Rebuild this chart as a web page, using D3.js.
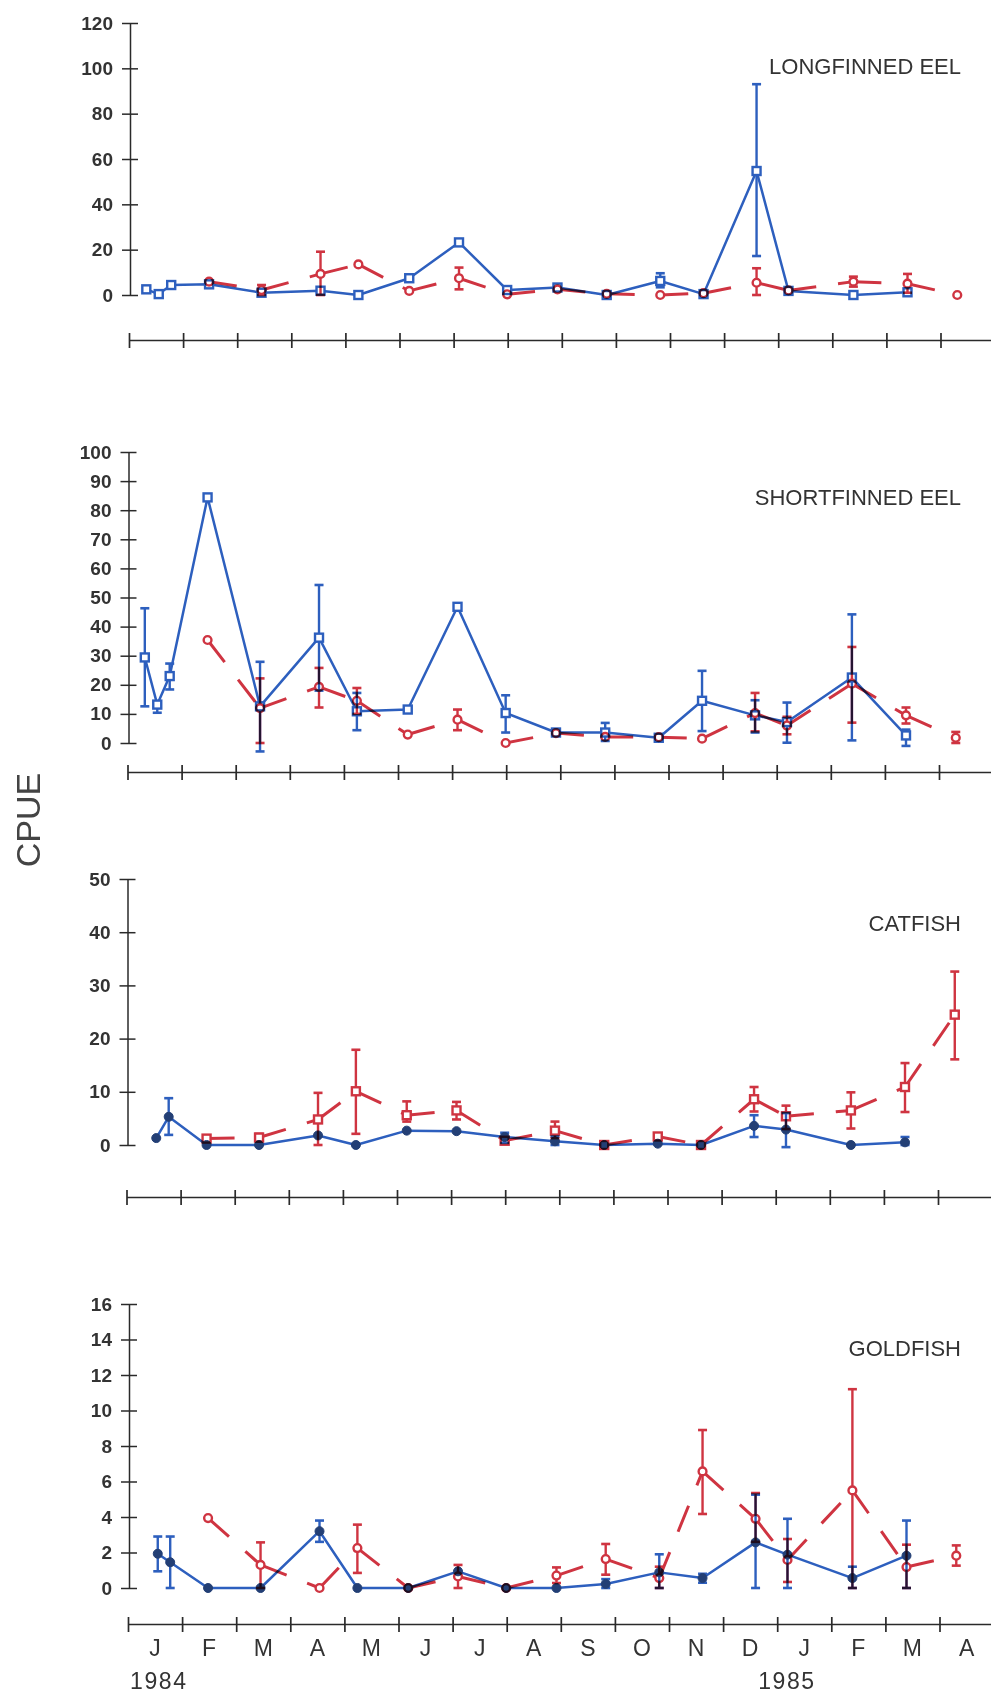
<!DOCTYPE html>
<html>
<head>
<meta charset="utf-8">
<script src="https://cdn.jsdelivr.net/npm/d3@7/dist/d3.min.js"></script>
<style>
  html, body { margin: 0; padding: 0; background: #fff; }
  svg { display: block; }
  .blend { mix-blend-mode: multiply; }
</style>
</head>
<body>
<script>
// ---------------- DATA ----------------
const monthLabels = ["J","F","M","A","M","J","J","A","S","O","N","D","J","F","M","A"];
const yearLabels = ["1984", "1985"];
const yearMonths = [0, 12];

// sampling times (months after start of Jan 1984)
const blueTimes = [0.32, 0.55, 0.78, 1.48, 2.45, 3.54, 4.24, 5.18, 6.10, 6.99, 7.92, 8.83, 9.82, 10.62, 11.60, 12.19, 13.39, 14.39];
const redTimes  = [1.48, 2.45, 3.54, 4.24, 5.18, 6.10, 6.99, 7.92, 8.83, 9.82, 10.62, 11.60, 12.19, 13.39, 14.39, 15.31];

// Longfinned eel
const lfBlue   = [2.5, 0.4, 4.4, 4.7, 1.0, 1.9, 0, 7.4, 23.2, 2.2, 3.3, 0, 6.2, 0.4, 54.7, 1.8, 0, 1.2];
const lfBlueLo = [null,null,null,null,null,null,null,null,null,null,null,null, 3.4,null, 17.2,null,null,null];
const lfBlueHi = [null,null,null,null,null,null,null,null,null,null,null,null, 9.6,null, 93,null,null,null];
const lfRed    = [5.9, 2.2, 9.3, 13.5, 1.8, 7.4, 0.3, 2.5, 0.5, 0, 0.8, 5.4, 2.0, 5.9, 5.0, 0];
const lfRedLo  = [null, 0, 0, null, null, 2.5, null, null, null, null, null, 0, null, 3.7, 1.0, null];
const lfRedHi  = [null, 4.4, 19.1, null, null, 12.1, null, null, null, null, null, 11.8, null, 8.1, 9.3, null];

// Shortfinned eel
const sfBlue   = [29.4, 13.2, 23.0, 84.4, 12.6, 36.2, 10.9, 11.5, 46.8, 10.3, 3.6, 3.6, 1.8, 14.5, 9.5, 7.2, 22.5, 2.6];
const sfBlueLo = [12.6, 10.4, 18.4, null, -2.9, 18.0, 4.4, null, null, 3.6, null, 0.7, null, 4.1, 3.6, 0.1, 0.9, -1.0];
const sfBlueHi = [46.3, 14.1, 27.3, null, 27.9, 54.3, 17.2, null, null, 16.4, null, 6.9, null, 24.8, 14.7, 13.9, 44.2, 4.6];
const sfRed    = [35.4, 12.0, 19.3, 14.5, 2.9, 8.0, 0, 3.4, 2.1, 2.0, 1.5, 10.3, 6.0, 20.4, 9.5, 1.8];
const sfRedLo  = [null, 0, 12.2, 10.0, null, 4.4, null, null, null, null, null, 4.0, 3.0, 7.0, 6.7, 0];
const sfRedHi  = [null, 22.2, 25.8, 18.9, null, 11.5, null, null, null, null, null, 17.2, 9.0, 33.0, 12.2, 3.8];

// Catfish
const cfBlue   = [null, 1.3, 5.3, 0, 0, 1.8, 0, 2.7, 2.6, 1.5, 0.7, 0, 0.25, 0, 3.6, 2.9, 0, 0.5];
const cfBlueLo = [null, null, 1.9, null, null, null, null, null, null, 0.4, 0, null, null, null, 1.5, -0.4, null, 0];
const cfBlueHi = [null, null, 8.8, null, null, null, null, null, null, 2.3, 1.6, null, null, null, 5.6, 6.0, null, 1.5];
const cfRed    = [1.2, 1.4, 4.8, 10.1, 5.6, 6.5, 0.8, 2.7, 0, 1.6, 0, 8.6, 5.4, 6.5, 10.9, 24.5];
const cfRedLo  = [null, 0.7, 0, 2.1, 4.4, 4.8, null, 1.3, null, null, null, 6.3, 3.0, 3.1, 6.2, 16.1];
const cfRedHi  = [null, 2.1, 9.8, 17.9, 8.2, 8.1, null, 4.4, null, null, null, 10.9, 7.4, 9.9, 15.4, 32.6];

// Goldfish
const gfBlue   = [null, 1.93, 1.45, 0, 0, 3.2, 0, 0, 0.94, 0, 0, 0.23, 0.88, 0.56, 2.57, 1.88, 0.56, 1.82];
const gfBlueLo = [null, 0.94, 0, null, null, 2.6, null, null, null, null, null, 0, 0, 0.3, 0, 0, 0, 0];
const gfBlueHi = [null, 2.9, 2.9, null, null, 3.8, null, null, null, null, null, 0.5, 1.9, 0.8, 5.26, 3.9, 1.2, 3.8];
const gfRed    = [3.94, 1.3, 0, 2.25, 0, 0.65, 0, 0.7, 1.63, 0.56, 6.57, 3.9, 1.58, 5.5, 1.18, 1.82];
const gfRedLo  = [null, 0, null, 0.85, null, 0, null, 0.28, 0.75, 0, 4.17, 2.6, 0.34, 0, 0, 1.26];
const gfRedHi  = [null, 2.57, null, 3.57, null, 1.3, null, 1.16, 2.48, 1.2, 8.9, 5.35, 2.76, 11.2, 2.44, 2.4];

const titles = ["LONGFINNED EEL", "SHORTFINNED EEL", "CATFISH", "GOLDFISH"];
const yMaxes = [120, 100, 50, 16];
const ySteps = [20, 10, 10, 2];

// ---------------- LAYOUT ----------------
const W = 991, H = 1695;
const MONTH_PX = 54.1;
const BLUE = "#2d5fbe", RED = "#cf3441", NAVY = "#233f75", INK = "#2a2a2a";

const panels = [
  { title: titles[0], yMax: yMaxes[0], step: ySteps[0], x0: 129, yTop: 23, yZero: 295, axisY: 340, titleY: 74,
    blue: lfBlue, blueLo: lfBlueLo, blueHi: lfBlueHi, red: lfRed, redLo: lfRedLo, redHi: lfRedHi,
    blueMark: "square", redMark: "circle" },
  { title: titles[1], yMax: yMaxes[1], step: ySteps[1], x0: 127.5, yTop: 452, yZero: 743, axisY: 772, titleY: 505,
    blue: sfBlue, blueLo: sfBlueLo, blueHi: sfBlueHi, red: sfRed, redLo: sfRedLo, redHi: sfRedHi,
    blueMark: "square", redMark: "circle" },
  { title: titles[2], yMax: yMaxes[2], step: ySteps[2], x0: 126.5, yTop: 879, yZero: 1145, axisY: 1197, titleY: 931,
    blue: cfBlue, blueLo: cfBlueLo, blueHi: cfBlueHi, red: cfRed, redLo: cfRedLo, redHi: cfRedHi,
    blueMark: "dot", redMark: "square" },
  { title: titles[3], yMax: yMaxes[3], step: ySteps[3], x0: 128, yTop: 1304, yZero: 1588, axisY: 1624, titleY: 1356,
    blue: gfBlue, blueLo: gfBlueLo, blueHi: gfBlueHi, red: gfRed, redLo: gfRedLo, redHi: gfRedHi,
    blueMark: "dot", redMark: "circle" }
];

const svg = d3.select("body").append("svg")
  .attr("width", W).attr("height", H)
  .attr("font-family", "'Liberation Sans', Arial, sans-serif");
svg.append("rect").attr("width", W).attr("height", H).attr("fill", "#fff");

function drawMarker(g, kind, cx, cy, color) {
  if (kind === "square") {
    g.append("rect").attr("x", cx - 4).attr("y", cy - 4).attr("width", 8).attr("height", 8)
      .attr("fill", "#fff").attr("stroke", color).attr("stroke-width", 2.4);
  } else if (kind === "circle") {
    g.append("circle").attr("cx", cx).attr("cy", cy).attr("r", 3.9)
      .attr("fill", "#fff").attr("stroke", color).attr("stroke-width", 2.4);
  } else {
    g.append("circle").attr("cx", cx).attr("cy", cy).attr("r", 4.5)
      .attr("fill", NAVY).attr("stroke", NAVY).attr("stroke-width", 1);
  }
}

function drawErr(g, cx, lo, hi, y, color) {
  if (lo == null || hi == null) return;
  const y1 = y(lo), y2 = y(hi);
  g.append("line").attr("x1", cx).attr("x2", cx).attr("y1", y1).attr("y2", y2)
    .attr("stroke", color).attr("stroke-width", 2.4);
  [y1, y2].forEach(yy => g.append("line").attr("x1", cx - 4.5).attr("x2", cx + 4.5)
    .attr("y1", yy).attr("y2", yy).attr("stroke", color).attr("stroke-width", 2.6));
}

panels.forEach((p, pi) => {
  const x = d3.scaleLinear().domain([0, 16]).range([p.x0, p.x0 + 16 * MONTH_PX]);
  const y = d3.scaleLinear().domain([0, p.yMax]).range([p.yZero, p.yTop]);
  const g = svg.append("g");

  // y axis
  const axX = p.x0 + 1;
  const yAx = g.append("g").attr("transform", `translate(${axX},0)`)
    .call(d3.axisLeft(y).tickValues(d3.range(0, p.yMax + p.step / 2, p.step))
      .tickSize(8).tickSizeOuter(0).tickPadding(9).tickFormat(d3.format("d")));
  yAx.select(".domain").attr("stroke", INK).attr("stroke-width", 1.5);
  yAx.selectAll(".tick line").attr("x1", -8).attr("x2", 8).attr("stroke", INK).attr("stroke-width", 1.5);
  yAx.selectAll(".tick text").attr("font-size", 19).attr("font-weight", "bold")
    .attr("fill", "#333").attr("font-family", "'Liberation Sans', Arial, sans-serif");

  // x axis
  const xAx = g.append("g").attr("transform", `translate(0,${p.axisY})`)
    .call(d3.axisBottom(x).tickValues(d3.range(0, 17)).tickSize(7).tickSizeOuter(0).tickFormat(""));
  xAx.select(".domain").attr("stroke", INK).attr("stroke-width", 1.5);
  xAx.selectAll(".tick line").attr("y1", -7).attr("y2", 8).attr("stroke", INK).attr("stroke-width", 1.7);

  // title
  g.append("text").attr("x", 961).attr("y", p.titleY).attr("text-anchor", "end")
    .attr("font-size", 22).attr("fill", "#333").text(p.title);

  // red series (dashed, dash pattern restarting at each sample)
  const rg = g.append("g");
  const rPts = redTimes.map((t, i) => ({ t, v: p.red[i], lo: p.redLo[i], hi: p.redHi[i] }));
  for (let i = 0; i < rPts.length - 1; i++) {
    const a = rPts[i], b = rPts[i + 1];
    if (a.v == null || b.v == null) continue;
    rg.append("path").attr("d", d3.line()([[x(a.t), y(a.v)], [x(b.t), y(b.v)]]))
      .attr("fill", "none").attr("stroke", RED).attr("stroke-width", 3)
      .attr("stroke-dasharray", "28,22");
  }
  rPts.forEach(d => { if (d.v != null) drawErr(rg, x(d.t), d.lo, d.hi, y, RED); });
  rPts.forEach(d => { if (d.v != null) drawMarker(rg, p.redMark, x(d.t), y(d.v), RED); });

  // blue series (solid), multiplied on top so overlaps turn dark
  const bg = g.append("g").attr("class", "blend");
  const bPts = blueTimes.map((t, i) => ({ t, v: p.blue[i], lo: p.blueLo[i], hi: p.blueHi[i] }));
  bg.append("path").datum(bPts.filter(d => d.v != null))
    .attr("d", d3.line().x(d => x(d.t)).y(d => y(d.v)))
    .attr("fill", "none").attr("stroke", BLUE).attr("stroke-width", 2.5).attr("stroke-linejoin", "round");
  bPts.forEach(d => { if (d.v != null) drawErr(bg, x(d.t), d.lo, d.hi, y, BLUE); });
  bPts.forEach(d => { if (d.v != null) drawMarker(bg, p.blueMark, x(d.t), y(d.v), BLUE); });

  // month labels on the last panel
  if (pi === panels.length - 1) {
    g.selectAll(".month").data(monthLabels).enter().append("text")
      .attr("x", (d, i) => x(i + 0.5)).attr("y", p.axisY + 32)
      .attr("text-anchor", "middle").attr("font-size", 23).attr("fill", "#333").text(d => d);
    g.selectAll(".year").data(yearLabels).enter().append("text")
      .attr("x", (d, i) => i === 0 ? x(yearMonths[i]) + 2 : x(yearMonths[i]) - 19)
      .attr("y", p.axisY + 65).attr("font-size", 23).attr("letter-spacing", 1.6)
      .attr("fill", "#333").text(d => d);
  }
});

// y-axis title
svg.append("text").attr("transform", "translate(40,820) rotate(-90)")
  .attr("text-anchor", "middle").attr("font-size", 34).attr("fill", "#444")
  .text("CPUE");
</script>
</body>
</html>
